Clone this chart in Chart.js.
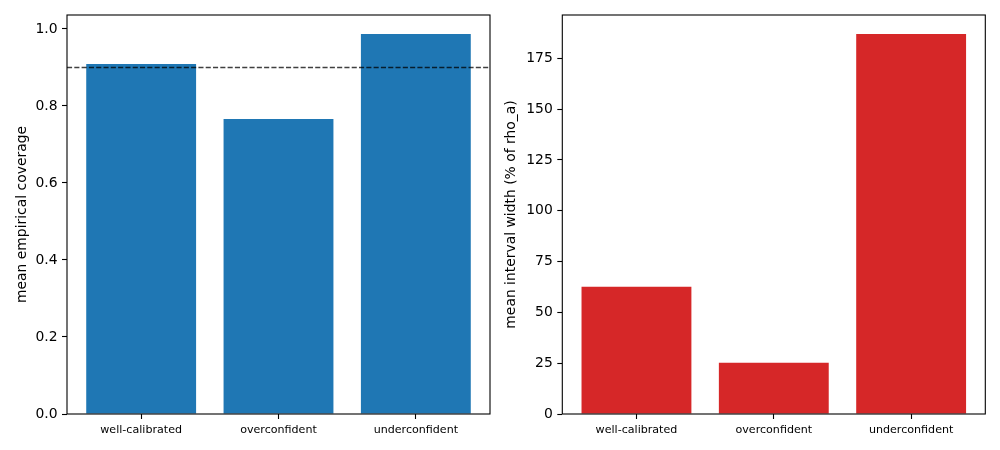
<!DOCTYPE html>
<html><head><meta charset="utf-8">
<script src="https://cdn.jsdelivr.net/npm/chart.js@4"></script>
<style>
body{margin:0;background:#fff;width:1000px;height:450px;overflow:hidden}
.box{position:absolute;top:0;width:500px;height:450px}
</style></head><body>
<div class="box" style="left:0"><canvas id="c1"></canvas></div>
<div class="box" style="left:500px"><canvas id="c2"></canvas></div>
<script>
const categories = ['well-calibrated', 'overconfident', 'underconfident'];
const categoryPositions = [0, 1, 2];
const coverageValues = [0.909, 0.766, 0.987];
const widthValues = [62.6, 25.2, 187.0];
const targetCoverage = 0.9;
const coverageTicks = [0, 0.2, 0.4, 0.6, 0.8, 1.0];
const widthTicks = [0, 25, 50, 75, 100, 125, 150, 175];

const FONT = "'DejaVu Sans', sans-serif";

const framePlugin = {
  id: 'frame',
  afterDatasetsDraw(chart, args, opts) {
    const ctx = chart.ctx;
    const a = chart.chartArea;
    if (opts.hline !== undefined && opts.hline !== null) {
      const y = chart.scales.y.getPixelForValue(opts.hline);
      ctx.save();
      ctx.strokeStyle = 'rgba(0,0,0,0.75)';
      ctx.lineWidth = 1.3;
      ctx.setLineDash([5.1, 2.2]);
      ctx.beginPath();
      ctx.moveTo(a.left, y);
      ctx.lineTo(a.right, y);
      ctx.stroke();
      ctx.restore();
    }
    ctx.save();
    ctx.strokeStyle = '#000';
    ctx.lineWidth = 1.1;
    ctx.strokeRect(a.left, a.top, a.right - a.left, a.bottom - a.top);
    ctx.restore();
  }
};

function makeChart(id, values, color, ticks, decimals, yTitle, yAxisWidth, titlePad, padRight, hline) {
  const yMax = Math.max(...values) * 1.05;
  return new Chart(document.getElementById(id), {
    type: 'bar',
    data: {
      datasets: [{
        data: categoryPositions.map((x, i) => ({ x: x, y: values[i] })),
        backgroundColor: color,
        borderWidth: 0,
        barPercentage: 0.8,
        categoryPercentage: 1.0
      }]
    },
    options: {
      responsive: true,
      maintainAspectRatio: false,
      animation: false,
      events: [],
      layout: { padding: { top: 15, right: padRight, left: 0, bottom: 0 } },
      plugins: {
        legend: { display: false },
        tooltip: { enabled: false },
        frame: { hline: hline }
      },
      scales: {
        x: {
          type: 'linear',
          min: -0.54,
          max: 2.54,
          offset: false,
          afterBuildTicks: (s) => { s.ticks = categoryPositions.map(v => ({ value: v })); },
          afterFit: (s) => { s.height = 36; },
          ticks: {
            callback: (v) => categories[Math.round(v)],
            font: { family: FONT, size: 11.1 },
            color: '#000',
            padding: 4.5,
            maxRotation: 0,
            autoSkip: false
          },
          grid: { offset: false, drawOnChartArea: false, drawTicks: true, tickLength: 5, tickColor: '#000', tickWidth: 1.1 },
          border: { display: false }
        },
        y: {
          type: 'linear',
          min: 0,
          max: yMax,
          afterBuildTicks: (s) => { s.ticks = ticks.map(v => ({ value: v })); },
          afterFit: (s) => { s.width = yAxisWidth; },
          ticks: {
            callback: (v) => v.toFixed(decimals),
            font: { family: FONT, size: 13.9 },
            color: '#000',
            padding: 4.5
          },
          grid: { offset: false, drawOnChartArea: false, drawTicks: true, tickLength: 5, tickColor: '#000', tickWidth: 1.1 },
          border: { display: false },
          title: {
            display: true,
            text: yTitle,
            font: { family: FONT, size: 13.9 },
            color: '#000',
            padding: { top: titlePad, bottom: 0 }
          }
        }
      }
    },
    plugins: [framePlugin]
  });
}

makeChart('c1', coverageValues, '#1f77b4', coverageTicks, 1, 'mean empirical coverage', 67, 14.1, 10, targetCoverage);
makeChart('c2', widthValues, '#d62728', widthTicks, 0, 'mean interval width (% of rho_a)', 62.3, 3.4, 14.7, null);
</script>
</body></html>
